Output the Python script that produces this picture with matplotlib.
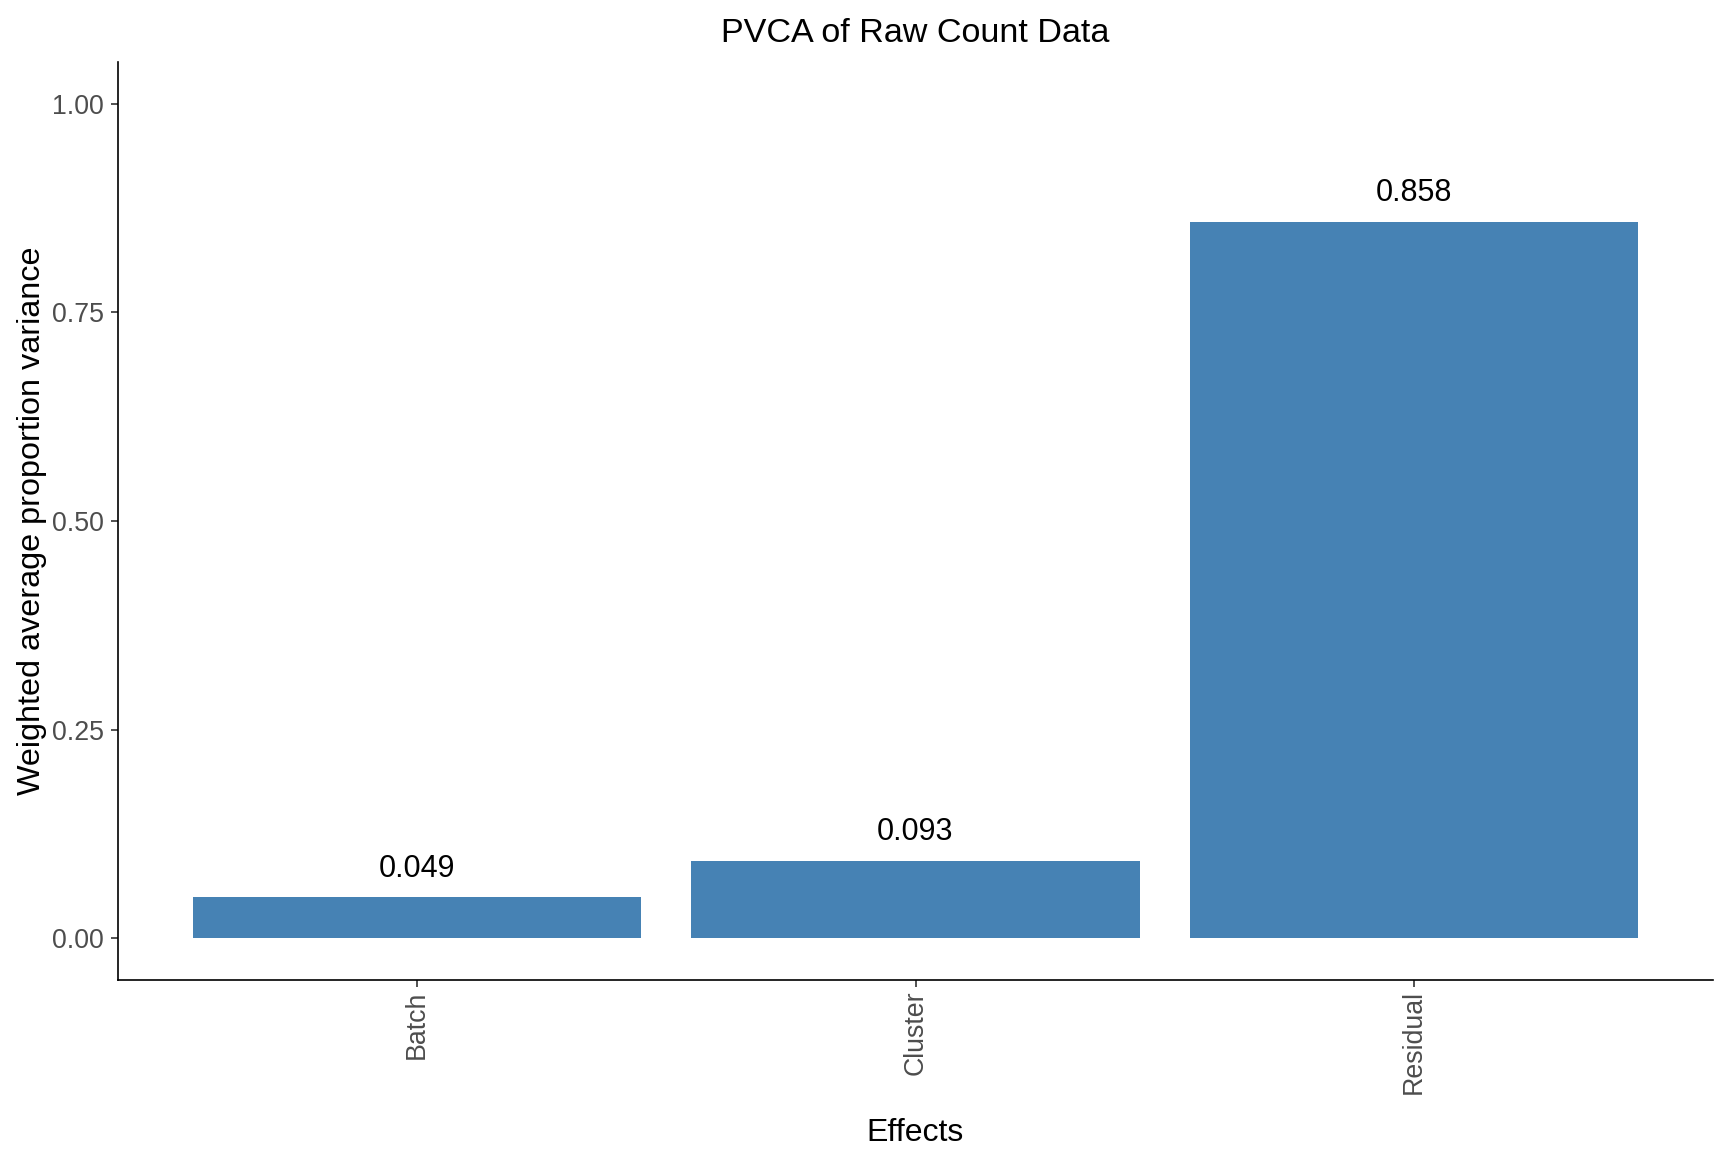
import matplotlib
matplotlib.use("Agg")
import matplotlib.pyplot as plt

effects = ["Batch", "Cluster", "Residual"]
values = [0.049, 0.093, 0.858]
labels = ["0.049", "0.093", "0.858"]
yticks = [0.00, 0.25, 0.50, 0.75, 1.00]
ytick_labels = ["0.00", "0.25", "0.50", "0.75", "1.00"]

plt.rcParams['font.family'] = ['Liberation Sans', 'DejaVu Sans']

W, H = 1728, 1152
fig = plt.figure(figsize=(W / 100, H / 100), dpi=100)
ax = fig.add_axes([118 / W, 1 - 980 / H, (1713 - 118) / W, (980 - 62) / H])

x = list(range(1, len(effects) + 1))
ax.bar(x, values, width=0.9, color="#4682B4")
for xi, v, lab in zip(x, values, labels):
    ax.annotate(lab, (xi, v), xytext=(0, 15), textcoords="offset points",
                ha="center", va="baseline", fontsize=22, color="black")

ax.set_xlim(0.4, 3.6)
ax.set_ylim(-0.05, 1.05)
ax.set_xticks(x)
ax.set_xticklabels(effects, rotation=90, ha="center", va="top")
ax.set_yticks(yticks)
ax.set_yticklabels(ytick_labels)
ax.tick_params(axis="both", labelsize=19.3, labelcolor="#4D4D4D", length=5,
               width=1.2, color="#333333")
ax.tick_params(axis="x", pad=2.5)
ax.tick_params(axis="y", pad=5.3)
for s in ["top", "right"]:
    ax.spines[s].set_visible(False)
for s in ["left", "bottom"]:
    ax.spines[s].set_linewidth(1.2)
    ax.spines[s].set_color("black")

fig.text(915.5 / W, 1 - 41.7 / H, "PVCA of Raw Count Data", ha="center",
         va="baseline", fontsize=24.6, color="black")
fig.text(915.5 / W, 1 - 1141 / H, "Effects", ha="center", va="baseline",
         fontsize=23, color="black")
fig.text(32 / W, 1 - 521 / H, "Weighted average proportion variance",
         rotation=90, ha="center", va="center", fontsize=23.3, color="black")

fig.savefig("out.png", dpi=100, facecolor="white")
